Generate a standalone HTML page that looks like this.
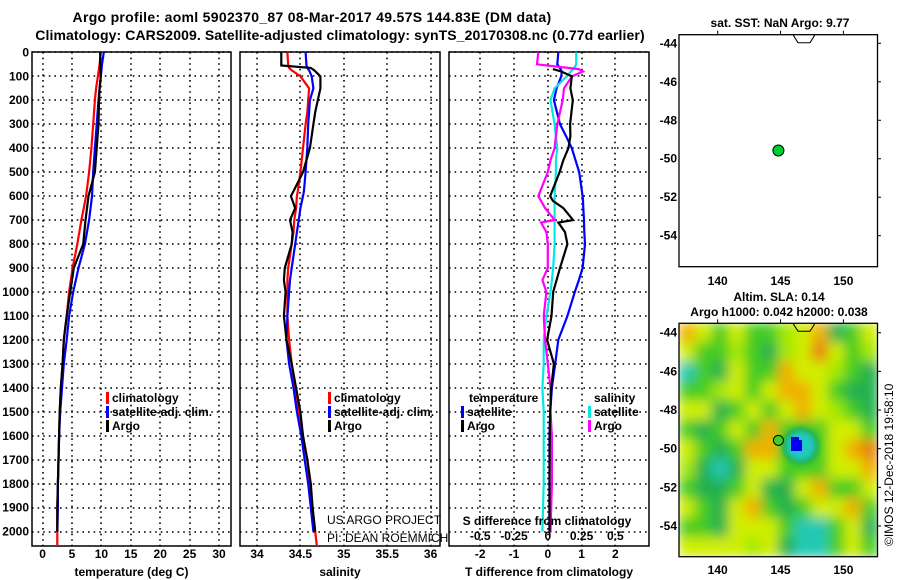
<!DOCTYPE html>
<html><head><meta charset="utf-8"><style>
body{margin:0;background:#fff}
svg{display:block;font-family:"Liberation Sans",sans-serif}
.t{font-weight:bold;font-size:12px}
</style></head><body>
<svg id="c" width="900" height="580" viewBox="0 0 900 580">
<defs>
<clipPath id="cp1"><rect x="32" y="52" width="199" height="494"/></clipPath>
<clipPath id="cp2"><rect x="240" y="52" width="200" height="494"/></clipPath>
<clipPath id="cp3"><rect x="449" y="52" width="200" height="494"/></clipPath>
<clipPath id="cpm"><rect x="679" y="323" width="199" height="234"/></clipPath>
<filter id="bl" filterUnits="userSpaceOnUse" x="600" y="250" width="350" height="380"><feGaussianBlur stdDeviation="6"/></filter>
<filter id="bl2" filterUnits="userSpaceOnUse" x="700" y="380" width="150" height="130"><feGaussianBlur stdDeviation="2.5"/></filter>
</defs>
<text class="t" x="312" y="22" text-anchor="middle" style="font-size:14px;letter-spacing:0.3px">Argo profile: aoml 5902370_87 08-Mar-2017 49.57S 144.83E (DM data)</text>
<text class="t" x="340" y="40" text-anchor="middle" style="font-size:14px;letter-spacing:0.1px">Climatology: CARS2009. Satellite-adjusted climatology: synTS_20170308.nc (0.77d earlier)</text>
<g id="g"></g>
</svg>
<script>
// ---- data ----
const depths = [0,50,100,150,200,300,400,500,600,700,800,900,1000,1100,1200,1300,1400,1500,1600,1700,1800,1900,2000];
const tClim = [9.9,9.7,9.4,9.1,8.9,8.6,8.3,7.9,7.4,6.6,5.9,5.1,4.5,4.1,3.6,3.4,3.1,2.9,2.8,2.7,2.6,2.5,2.5];
const tSat  = [10.4,10.1,9.9,9.7,9.5,9.2,8.9,8.6,8.4,7.9,7.2,6.1,5.2,4.5,4.1,3.6,3.3,3.0,2.8,2.7,2.6,2.6,2.5];
const tArgo = [9.8,9.8,9.9,9.7,9.6,9.5,9.2,8.9,7.8,7.3,6.9,5.3,4.7,4.1,3.6,3.4,3.1,2.9,2.8,2.7,2.6,2.5,2.5];
const sDepths = [0,55,65,75,100,150,200,250,300,400,500,580,600,650,700,750,800,900,950,1000,1100,1200,1300,1400,1500,1600,1700,1800,1900,2000];
const sClim = [34.35,34.36,34.37,34.40,34.50,34.60,34.59,34.58,34.56,34.53,34.50,34.47,34.46,34.45,34.43,34.42,34.40,34.36,34.35,34.35,34.35,34.37,34.40,34.44,34.48,34.53,34.58,34.61,34.64,34.67];
const sSat  = [34.56,34.57,34.58,34.60,34.63,34.65,34.61,34.60,34.59,34.58,34.56,34.54,34.53,34.50,34.48,34.46,34.44,34.40,34.38,34.37,34.35,34.34,34.37,34.42,34.46,34.51,34.55,34.59,34.62,34.65];
const sArgo = [34.28,34.28,34.62,34.66,34.73,34.73,34.70,34.67,34.65,34.61,34.53,34.42,34.39,34.44,34.38,34.41,34.40,34.32,34.31,34.33,34.31,34.34,34.40,34.45,34.50,34.53,34.58,34.62,34.64,34.67];
const dDepths = [0,50,70,80,100,150,200,300,350,400,450,500,600,620,650,700,710,750,800,900,950,1000,1100,1200,1300,1400,1500,1600,1800,2000];
const dTSat  = [0.31,0.28,0.38,0.41,0.40,0.26,0.18,0.36,0.54,0.71,0.82,0.93,1.03,1.04,1.05,1.07,1.07,1.08,1.10,1.03,0.92,0.80,0.58,0.31,0.22,0.12,0.07,0.05,0.05,0.05];
const dTArgo = [null,null,0.15,0.40,0.71,0.67,0.74,0.66,0.67,0.61,0.46,0.35,0.07,0.15,0.46,0.75,0.31,0.51,0.58,0.36,0.26,0.16,0.11,-0.02,0.18,0.10,0.07,0.06,0.05,0.05];
const dSSat  = [0.21,0.21,0.19,0.17,0.14,0.05,0.02,0.05,0.06,0.07,0.06,0.06,0.05,0.05,0.05,0.05,0.05,0.05,0.05,0.04,0.03,0.02,-0.01,-0.03,-0.03,-0.04,-0.03,-0.03,-0.03,-0.04];
const dSArgo = [-0.07,-0.08,0.23,0.26,0.18,0.12,0.11,0.07,0.06,0.05,0.02,0.0,-0.07,-0.05,-0.02,0.05,-0.05,-0.01,0.0,0.0,-0.04,-0.01,-0.03,-0.02,0.0,0.02,0.02,0.03,0.03,0.02];
const depthTicks = [0,100,200,300,400,500,600,700,800,900,1000,1100,1200,1300,1400,1500,1600,1700,1800,1900,2000];
const tTicks = [0,5,10,15,20,25,30];
const sTicks = [34,34.5,35,35.5,36];
const dTicks = [-2,-1,0,1,2];
const dsTickLabels = ['-0.5','-0.25','0','0.25','0.5'];
const dsTicks = [-0.5,-0.25,0,0.25,0.5];
const latTicks = [-44,-46,-48,-50,-52,-54];
const lonTicks = [140,145,150];
const floatLon = [144.83], floatLat = [-49.57];
// SLA field codes (rows lat -43.5 .. -55.5, cols lon 137 .. 152.6)
const slaRows = [
"OYGYGGLYODGY",
"YGGLGDLYRYGL",
"CGDYGGOYYLGD",
"GGLYGYOOYGDD",
"YYDGYGYOYLGD",
"GDGYGOGGGYYG",
"YGDGOOGGGYOR",
"LDCDYYGGGYYO",
"GDDGYDDYOGGY",
"YGDYOGDGYYOG",
"GGDYYYGCCGYD",
"YYYYLYDCCGYG"];
const slaColors = {Y:'#d0ee00',L:'#a4e800',G:'#44cc22',D:'#22b050',C:'#22c8b4',O:'#f0b000',R:'#e88010'};

// ---- helpers ----
const NS='http://www.w3.org/2000/svg';
const G=document.getElementById('g');
function mk(tag,attrs,parent){const e=document.createElementNS(NS,tag);for(const k in attrs)e.setAttribute(k,attrs[k]);(parent||G).appendChild(e);return e;}
function txt(x,y,s,anchor,parent,extra){const e=mk('text',Object.assign({x:x,y:y,'text-anchor':anchor||'start','class':'t'},extra||{}),parent);e.textContent=s;return e;}
const yD = d => 52.3 + d*0.2397;
const xT = v => 42.6 + v*5.88;
const xS = v => 257 + (v-34)*86.8;
const xDT = v => 547.8 + v*33.8;
const xDS = v => 547.8 + v*135.2;
const lonX = v => 717.7 + (v-140)*12.57;
const latYTop = v => 43.3 + (-44 - v)*19.24;
const latYBot = v => 332.7 + (-44 - v)*19.33;

function panel(x0,x1,name,xticks,xf,labels,title){
  const g=mk('g',{});
  
  
  depthTicks.forEach(d=>{const Y=Math.round(yD(d));
    const l=mk('line',{x1:x0,x2:x1,y1:Y,y2:Y,stroke:'#000','stroke-width':1.6,'stroke-dasharray':'1.6,4'},g);
    
    });
  xticks.forEach((v,i)=>{
    const X=Math.round(xf(v));
    const l=mk('line',{x1:X,x2:X,y1:52,y2:546,stroke:'#000','stroke-width':1.6,'stroke-dasharray':'1.6,4'},g);
    
    
    const t=txt(xf(v),558,labels[i],'middle',g);
    
    
  });
  mk('rect',{x:x0,y:52,width:x1-x0,height:494,fill:'none',stroke:'#000','stroke-width':1.5},g);
  const tt=txt((x0+x1)/2,576,title,'middle',g);
  
  
  return g;
}
function series(ds,vals,xf,color,clip,name){
  let d='';let started=false;
  ds.forEach((dep,i)=>{const v=vals[i];if(v===null){started=false;return;}
    d+=(started?'L':'M')+xf(v).toFixed(1)+','+yD(dep).toFixed(1);started=true;});
  const p=mk('path',{d:d,fill:'none',stroke:color,'stroke-width':2.2,'clip-path':'url(#'+clip+')'});
  
  
}
function legend(x,y,color,label,name){
  const r=mk('rect',{x:x,y:y-10,width:3,height:12,fill:color});
  
  
  const t=txt(x+6,y,label,'start');
  
  
}

// ---- depth axis ----
depthTicks.forEach(d=>{const t=txt(29,yD(d)+4,String(d),'end');
  
  });

// ---- panel 1 temperature ----
panel(32,231,'temperature-panel',tTicks,xT,tTicks.map(String),'temperature (deg C)');
series(depths.concat([2060]),tClim.concat([2.5]),xT,'#f00','cp1','temp-climatology-line');
series(depths,tSat,xT,'#00f','cp1','temp-satellite-line');
series(depths,tArgo,xT,'#000','cp1','temp-argo-line');
legend(106,402,'#f00','climatology','legend-climatology-temp');
legend(106,416,'#00f','satellite-adj. clim.','legend-satellite-temp');
legend(106,430,'#000','Argo','legend-argo-temp');

// ---- panel 2 salinity ----
panel(240,440,'salinity-panel',sTicks,xS,sTicks.map(String),'salinity');
series(sDepths.concat([2060]),sClim.concat([34.69]),xS,'#f00','cp2','sal-climatology-line');
series(sDepths,sSat,xS,'#00f','cp2','sal-satellite-line');
series(sDepths,sArgo,xS,'#000','cp2','sal-argo-line');
legend(328,402,'#f00','climatology','legend-climatology-sal');
legend(328,416,'#00f','satellite-adj. clim.','legend-satellite-sal');
legend(328,430,'#000','Argo','legend-argo-sal');
const cr1=txt(327,524,'US ARGO PROJECT','start',null,{'font-weight':'normal','class':'','font-size':'12'});


const cr2=txt(327,542,'PI: DEAN ROEMMICH','start',null,{'font-weight':'normal','class':'','font-size':'12'});



// ---- panel 3 differences ----
panel(449,649,'difference-panel',dTicks,xDT,dTicks.map(String),'T difference from climatology');
series(dDepths,dTSat,xDT,'#00f','cp3','tdiff-satellite-line');
series(dDepths,dSSat,xDS,'#00e8e8','cp3','sdiff-satellite-line');
series(dDepths,dSArgo,xDS,'#f0f','cp3','sdiff-argo-line');
series(dDepths,dTArgo,xDT,'#000','cp3','tdiff-argo-line');
const lt=txt(469,402,'temperature','start');
const ls=txt(594,402,'salinity','start');
legend(461,416,'#00f','satellite','legend-tdiff-satellite');
legend(461,430,'#000','Argo','legend-tdiff-argo');
legend(588,416,'#00e8e8','satellite','legend-sdiff-satellite');
legend(588,430,'#f0f','Argo','legend-sdiff-argo');
const sdt=txt(547,525,'S difference from climatology','middle');
dsTicks.forEach((v,i)=>{const t=txt(xDS(v),540,dsTickLabels[i],'middle');
  
  });

// ---- maps ----
function mapFrame(top,bottom,latY,name,labY){
  const g=mk('g',{});
  
  
  mk('rect',{x:679,y:top,width:198.5,height:bottom-top,fill:'none',stroke:'#000','stroke-width':1.3},g);
  latTicks.forEach(v=>{const Y=latY(v);
    mk('line',{x1:877.5,x2:881,y1:Y,y2:Y,stroke:'#000'},g);
    const t=txt(677,Y+4,String(v),'end',g);
    
    });
  lonTicks.forEach(v=>{const X=lonX(v);
    mk('line',{x1:X,x2:X,y1:top,y2:top-4,stroke:'#000'},g);
    const t=txt(X,labY,String(v),'middle',g);
    
    });
  mk('path',{d:'M793,'+top+' l5,8 h12 l5,-8',fill:'none',stroke:'#000','stroke-width':1},g);
  return g;
}
// bottom map heatmap
const hm=mk('g',{'clip-path':'url(#cpm)'});


const hb=mk('g',{filter:'url(#bl)'},hm);
const cw=199/12, ch=234/12;
slaRows.forEach((row,r)=>{[...row].forEach((c,k)=>{
  const cell=mk('rect',{x:679+k*cw-0.5,y:323+r*ch-0.5,width:cw+1,height:ch+1,fill:slaColors[c]},hb);
  
  
});});
const hb2=mk('g',{filter:'url(#bl2)'},hm);
const ring0=mk('circle',{cx:lonX(146.6),cy:latYBot(-49.85),r:19,fill:'#22b050'},hb2);


const ring=mk('circle',{cx:lonX(146.6),cy:latYBot(-49.85),r:14,fill:'#22c8c0'},hb2);


const bs=mk('path',{d:'M791,437 h8 v3 h3 v11 h-11 z',fill:'#0000ee'},hm);



mapFrame(34.7,266.7,latYTop,'sst-map',285);
mapFrame(323.3,556.7,latYBot,'sla-map',574);
const fp1=mk('circle',{cx:lonX(floatLon[0]),cy:latYTop(floatLat[0]),r:5.5,fill:'#00cc33',stroke:'#000','stroke-width':1});


const fp2=mk('circle',{cx:lonX(floatLon[0]),cy:latYBot(floatLat[0]),r:5,fill:'#40d020',stroke:'#000','stroke-width':1});


const mt1=txt(780,27,'sat. SST: NaN Argo: 9.77','middle');
const mt2=txt(779,301,'Altim. SLA: 0.14','middle');
const mt3=txt(779,316,'Argo h1000: 0.042 h2000: 0.038','middle');
const im=txt(0,0,'©IMOS 12-Dec-2018 19:58:10','start',null,{transform:'translate(893,546) rotate(-90)','font-weight':'normal','class':'','font-size':'12'});


</script>
</body></html>
